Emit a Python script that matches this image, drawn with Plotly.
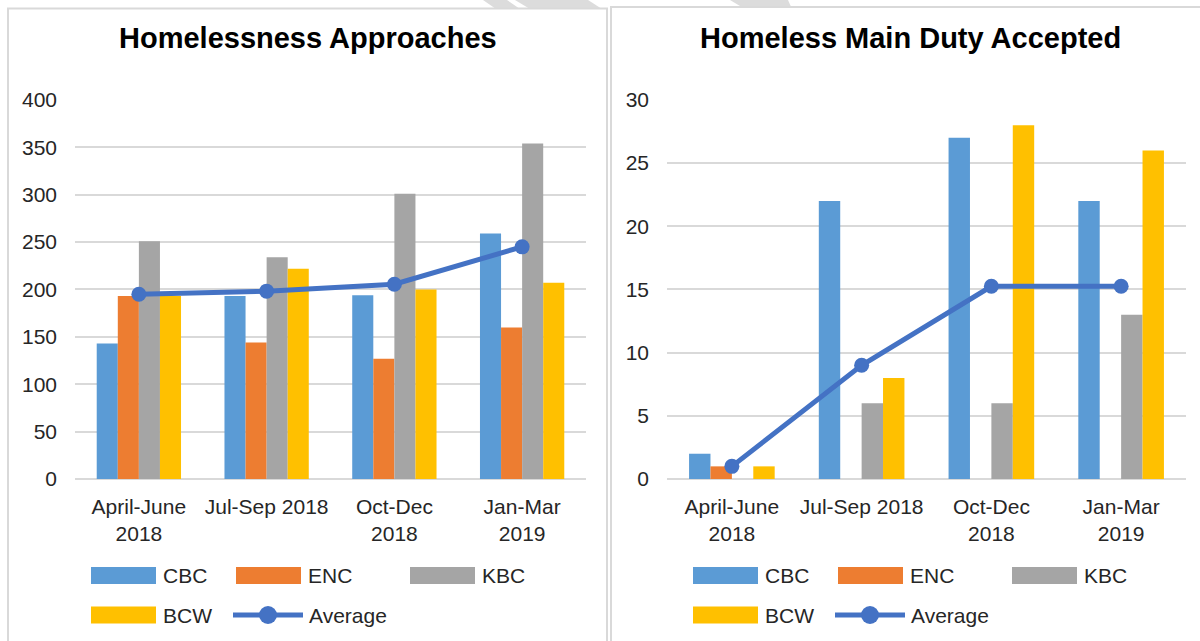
import plotly.graph_objects as go

W, H = 1200, 641

quarters = ["April-June<br>2018", "Jul-Sep 2018", "Oct-Dec<br>2018", "Jan-Mar<br>2019"]
series_names = ["CBC", "ENC", "KBC", "BCW"]
series_colors = ["#5B9BD5", "#ED7D31", "#A5A5A5", "#FFC000"]
avg_color = "#4472C4"

# Homelessness Approaches
approach_cbc = [143, 193, 194, 259]
approach_enc = [193, 144, 127, 160]
approach_kbc = [251, 234, 301, 354]
approach_bcw = [193, 222, 200, 207]
approach_avg = [195, 198.25, 205.5, 245]

# Homeless Main Duty Accepted
duty_cbc = [2, 22, 27, 22]
duty_enc = [1, 0, 0, 0]
duty_kbc = [0, 6, 6, 13]
duty_bcw = [1, 8, 28, 26]
duty_avg = [1, 9, 15.25, 15.25]

FONT = "Liberation Sans, Arial, sans-serif"
TXT = "#262626"
GRID = "#D9D9D9"


def px(x):
    return x / W


def py(y):
    return 1 - y / H


fig = go.Figure()

panels = [
    ("x", "y", [approach_cbc, approach_enc, approach_kbc, approach_bcw], approach_avg),
    ("x2", "y2", [duty_cbc, duty_enc, duty_kbc, duty_bcw], duty_avg),
]
for xa, ya, vals, avg in panels:
    for name, color, v in zip(series_names, series_colors, vals):
        fig.add_trace(go.Bar(
            x=quarters, y=v, name=name, marker=dict(color=color, line=dict(width=0)),
            xaxis=xa, yaxis=ya, showlegend=False,
        ))
    fig.add_trace(go.Scatter(
        x=quarters, y=avg, name="Average", mode="lines+markers",
        line=dict(color=avg_color, width=5), marker=dict(size=15, color=avg_color),
        xaxis=xa, yaxis=ya, showlegend=False,
    ))

axis_common = dict(
    tickfont=dict(family=FONT, size=21, color=TXT),
    showgrid=False, ticks="", fixedrange=True, automargin=False,
)
y_common = dict(
    tickfont=dict(family=FONT, size=21, color=TXT),
    showgrid=True, gridcolor=GRID, gridwidth=2, zeroline=True, zerolinecolor=GRID,
    zerolinewidth=2, ticks="", ticklabelstandoff=17, domain=[py(479), py(99)],
    automargin=False, fixedrange=True,
)

# tops a hair above the last gridline so it still gets drawn
fig.update_layout(
    width=W, height=H,
    margin=dict(l=0, r=0, t=0, b=0, pad=0, autoexpand=False),
    paper_bgcolor="white", plot_bgcolor="rgba(0,0,0,0)",
    barmode="group", bargap=0.34, bargroupgap=0,
    showlegend=False,
    font=dict(family=FONT, color=TXT),
    xaxis=dict(domain=[px(75), px(586)], anchor="y", ticklabelstandoff=13, **axis_common),
    yaxis=dict(anchor="x", range=[0, 401], dtick=50, **y_common),
    xaxis2=dict(domain=[px(667), px(1186)], anchor="y2", ticklabelstandoff=13, **axis_common),
    yaxis2=dict(anchor="x2", range=[0, 30.075], dtick=5, **y_common),
)

shapes = []
# faint watermark remnants at the top edge
wm = [
    [(483, 0), (507, 0), (520, 9), (496, 9)],
    [(515, 0), (588, 0), (602, 9), (530, 9)],
    [(730, 0), (788, 0), (792, 9), (745, 9)],
]
for poly in wm:
    path = "M " + " L ".join(f"{px(a)},{py(b)}" for a, b in poly) + " Z"
    shapes.append(dict(type="path", path=path, xref="paper", yref="paper",
                       fillcolor="#DCDCDC", line=dict(width=0), layer="below"))
# chart panels
for x0, y0, x1 in [(8, 8.5, 607), (611, 7, 1210)]:
    shapes.append(dict(type="rect", xref="paper", yref="paper",
                       x0=px(x0), x1=px(x1), y0=py(660), y1=py(y0),
                       fillcolor="white", line=dict(color=GRID, width=2), layer="below"))

annotations = []
titles = [("Homelessness Approaches", 308), ("Homeless Main Duty Accepted", 910)]
for text, cx in titles:
    annotations.append(dict(text=f"<b>{text}</b>", x=px(cx), y=py(38), xref="paper", yref="paper",
                            showarrow=False, xanchor="center", yanchor="middle",
                            font=dict(family=FONT, size=29, color="#000000")))

# legends, Excel-style grid below each chart
legend_slots = [(91, 575.5), (236, 575.5), (410, 575.5), (91, 615)]
for off in (0, 602):
    for (sx, sy), name, color in zip(legend_slots, series_names, series_colors):
        shapes.append(dict(type="rect", xref="paper", yref="paper",
                           x0=px(sx + off), x1=px(sx + off + 65), y0=py(sy + 8.5), y1=py(sy - 8.5),
                           fillcolor=color, line=dict(width=0)))
        annotations.append(dict(text=name, x=px(sx + off + 70), y=py(sy), xref="paper", yref="paper",
                                showarrow=False, xanchor="left", yanchor="middle",
                                font=dict(family=FONT, size=21, color=TXT)))
    shapes.append(dict(type="line", xref="paper", yref="paper",
                       x0=px(233 + off), x1=px(303 + off), y0=py(615), y1=py(615),
                       line=dict(color=avg_color, width=5)))
    shapes.append(dict(type="circle", xref="paper", yref="paper",
                       x0=px(259 + off), x1=px(277 + off), y0=py(624), y1=py(606),
                       fillcolor=avg_color, line=dict(width=0)))
    annotations.append(dict(text="Average", x=px(307 + off), y=py(615), xref="paper", yref="paper",
                            showarrow=False, xanchor="left", yanchor="middle",
                            font=dict(family=FONT, size=21, color=TXT)))

fig.update_layout(shapes=shapes, annotations=annotations)

# pin the fixed-size figure to the window corner (no page margin / stray line boxes)
pin = (
    "document.body.style.margin='0';document.body.style.overflow='hidden';"
    "var d=document.getElementById('{plot_id}');"
    "d.style.position='absolute';d.style.left='0px';d.style.top='0px';"
)
fig.write_html("out.html", config={"displayModeBar": False}, post_script=pin)
